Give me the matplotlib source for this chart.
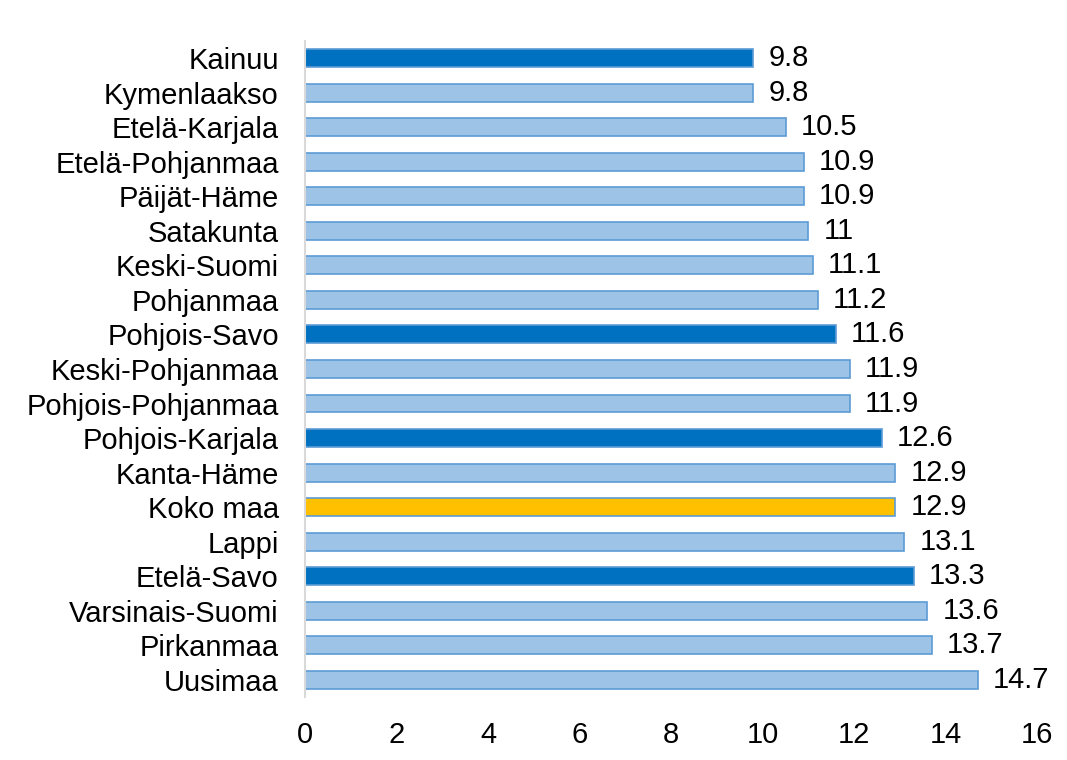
import matplotlib.pyplot as plt

regions = ["Kainuu", "Kymenlaakso", "Etelä-Karjala", "Etelä-Pohjanmaa", "Päijät-Häme",
           "Satakunta", "Keski-Suomi", "Pohjanmaa", "Pohjois-Savo", "Keski-Pohjanmaa",
           "Pohjois-Pohjanmaa", "Pohjois-Karjala", "Kanta-Häme", "Koko maa", "Lappi",
           "Etelä-Savo", "Varsinais-Suomi", "Pirkanmaa", "Uusimaa"]
values = [9.8, 9.8, 10.5, 10.9, 10.9, 11, 11.1, 11.2, 11.6, 11.9,
          11.9, 12.6, 12.9, 12.9, 13.1, 13.3, 13.6, 13.7, 14.7]
dark = ["Kainuu", "Pohjois-Savo", "Pohjois-Karjala", "Etelä-Savo"]
highlight = ["Koko maa"]

colors = []
for r in regions:
    if r in dark:
        colors.append("#0070C0")
    elif r in highlight:
        colors.append("#FFC000")
    else:
        colors.append("#9DC3E6")

plt.rcParams['font.family'] = ['Liberation Sans', 'DejaVu Sans']
fs = 21

fig = plt.figure(figsize=(10.67, 7.6), dpi=100)
ax = fig.add_axes([0.286, 0.083, 0.686, 0.863])

y = list(range(len(regions)))
ax.barh(y, values, height=0.52, color=colors, edgecolor="#5B9BD5", linewidth=1.2)
for yi, v in zip(y, values):
    ax.text(v + 0.33, yi, f"{v:g}", va="center", ha="left", fontsize=fs)

ax.set_yticks(y)
ax.set_yticklabels(regions, fontsize=fs)
ax.set_ylim(len(regions) - 0.5, -0.5)
ax.set_xlim(0, 16)
ax.set_xticks(range(0, 17, 2))
ax.tick_params(axis='x', labelsize=fs, length=0, pad=17)
ax.tick_params(axis='y', length=0, pad=19)
for s in ["top", "right", "bottom"]:
    ax.spines[s].set_visible(False)
ax.spines["left"].set_color("#D9D9D9")
ax.spines["left"].set_linewidth(1.5)

fig.savefig("out.png", dpi=100)
